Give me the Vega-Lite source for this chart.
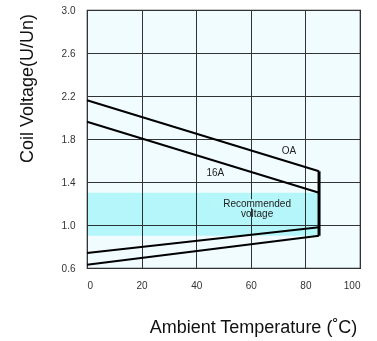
{
  "$schema": "https://vega.github.io/schema/vega-lite/v6.json",
  "width": 273,
  "height": 258,
  "autosize": "none",
  "padding": {"left": 87, "top": 10, "right": 17, "bottom": 73},
  "background": "white",
  "config": {
    "font": "Liberation Sans",
    "view": {"fill": "#f0fcff", "stroke": "#222", "strokeWidth": 1.2},
    "axis": {"labelFont": "Liberation Sans", "titleFont": "Liberation Sans", "labelColor": "#333", "titleColor": "#111", "titleFontWeight": "normal", "gridColor": "#333", "gridOpacity": 1, "gridWidth": 1, "ticks": false, "domain": false, "labelFontSize": 10}
  },
  "datasets": {
    "lines": [
      {"series": "OA", "temp": 0, "v": 2.16},
      {"series": "OA", "temp": 85, "v": 1.5},
      {"series": "16A", "temp": 0, "v": 1.96},
      {"series": "16A", "temp": 85, "v": 1.3},
      {"series": "L1", "temp": 0, "v": 0.74},
      {"series": "L1", "temp": 85, "v": 0.98},
      {"series": "L2", "temp": 0, "v": 0.63},
      {"series": "L2", "temp": 85, "v": 0.9}
    ],
    "band": [{"x1": 0, "x2": 85, "y1": 0.9, "y2": 1.3}],
    "labelbg": [{"x1": 46, "x2": 78.5, "y1": 1.16, "y2": 1.24}],
    "vrule": [{"temp": 85, "v1": 0.9, "v2": 1.5}],
    "labels": [
      {"temp": 74, "v": 1.69, "text": "OA"},
      {"temp": 47, "v": 1.48, "text": "16A"},
      {"temp": 62.3, "v": 1.2, "text": "Recommended"},
      {"temp": 62.3, "v": 1.1, "text": "voltage"}
    ]
  },
  "layer": [
    {
      "data": {"name": "band"},
      "mark": {"type": "rect", "color": "#c0f9f9", "blend": "multiply"},
      "encoding": {
        "x": {"field": "x1", "type": "quantitative", "scale": {"domain": [0, 100]},
          "axis": {"values": [0, 20, 40, 60, 80, 100], "labelPadding": 12, "title": "Ambient Temperature (˚C)", "titleFontSize": 18, "titleX": 166, "titleY": 59, "titleBaseline": "middle", "titleAlign": "center"}},
        "x2": {"field": "x2"},
        "y": {"field": "y1", "type": "quantitative", "scale": {"domain": [0.6, 3.0], "nice": false, "zero": false},
          "axis": {"values": [0.6, 0.8, 1.0, 1.2, 1.4, 1.6, 1.8, 2.0, 2.2, 2.4, 2.6, 2.8, 3.0], "labelExpr": "round(datum.value*10) % 4 == 2 ? format(datum.value, '.1f') : ''", "labelPadding": 12, "title": "Coil Voltage(U/Un)", "titleFontSize": 18, "titleX": -60, "titleY": 78, "titleAngle": 270, "titleBaseline": "middle", "titleAlign": "center"}},
        "y2": {"field": "y2"}
      }
    },
    {
      "data": {"name": "labelbg"},
      "mark": {"type": "rect", "color": "#b6f7fa"},
      "encoding": {
        "x": {"field": "x1", "type": "quantitative"},
        "x2": {"field": "x2"},
        "y": {"field": "y1", "type": "quantitative"},
        "y2": {"field": "y2"}
      }
    },
    {
      "data": {"name": "lines"},
      "mark": {"type": "line", "color": "black", "strokeWidth": 2},
      "encoding": {
        "x": {"field": "temp", "type": "quantitative"},
        "y": {"field": "v", "type": "quantitative"},
        "detail": {"field": "series"}
      }
    },
    {
      "data": {"name": "vrule"},
      "mark": {"type": "rule", "color": "black", "strokeWidth": 3},
      "encoding": {
        "x": {"field": "temp", "type": "quantitative"},
        "y": {"field": "v1", "type": "quantitative"},
        "y2": {"field": "v2"}
      }
    },
    {
      "data": {"name": "labels"},
      "mark": {"type": "text", "fontSize": 10, "color": "#222", "font": "Liberation Sans"},
      "encoding": {
        "x": {"field": "temp", "type": "quantitative"},
        "y": {"field": "v", "type": "quantitative"},
        "text": {"field": "text"}
      }
    }
  ]
}
